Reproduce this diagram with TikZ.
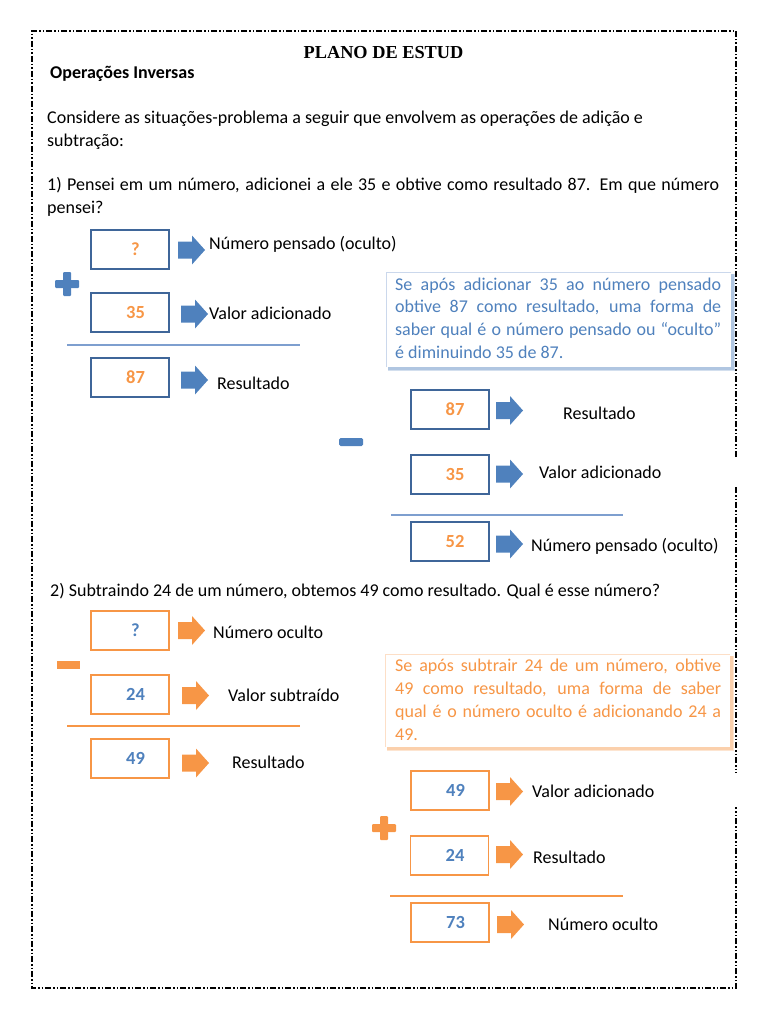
\documentclass[tikz,border=0pt]{standalone}
\usepackage{fontspec}
\setmainfont{Carlito}
\newfontfamily\titlefont{Liberation Serif}
\usetikzlibrary{calc}
\definecolor{bdark}{HTML}{3F6699}
\definecolor{bfill}{HTML}{4F81BD}
\definecolor{bline}{HTML}{7E9FCF}
\definecolor{ofill}{HTML}{F79646}
\newcommand\barr[3]{\fill[#3] (#1,#2) ++(0,-8.5) -- ++(14,0) -- ++(0,-6) -- ++(13,14.5) -- ++(-13,14.5) -- ++(0,-6) -- ++(-14,0) -- cycle;}
\newcommand\plussign[3]{\fill[#3,rounded corners=1pt] (#1,#2) ++(-4,-12) rectangle ++(8,24); \fill[#3,rounded corners=1pt] (#1,#2) ++(-12,-4) rectangle ++(24,8);}
\begin{document}
\begin{tikzpicture}[x=1pt,y=-1pt,
  txt/.style={font=\fontsize{18}{23}\selectfont,inner sep=0pt,anchor=west},
  numbox/.style={minimum width=78pt,minimum height=39pt,inner sep=0pt,font=\fontsize{18.5}{19}\selectfont\bfseries,execute at begin node={\hspace*{11pt}}},
  bbox/.style={numbox,draw=bdark,line width=2pt,text=ofill},
  obox/.style={numbox,draw=ofill,line width=1.3pt,text=bfill},
  bdr/.style={line width=1.6pt,dash pattern=on 6pt off 2pt on 1.5pt off 2pt on 1.5pt off 2pt},
  callout/.style={inner sep=0pt,text width=326pt,align=justify,font=\fontsize{18}{22.8}\selectfont}
]
\useasboundingbox (0,0) rectangle (768,1024);
% border
\draw[bdr] (736,457) -- (736,31) -- (32,31) -- (32,988) -- (736,988) -- (736,807);
\draw[bdr] (736,487) -- (736,773);
% headings
\node[inner sep=0pt,font=\titlefont\fontsize{18.3}{20}\selectfont\bfseries] (title) at (383.5,53) {PLANO DE ESTUD};
\node[txt,font=\fontsize{18}{20}\selectfont\bfseries] (sub) at (50,74) {Operações Inversas};
\node[txt] (p1) at (47,119) {Considere as situações-problema a seguir que envolvem as operações de adição e};
\node[txt] (p2) at (47,142) {subtração:};
\node[txt,text width=672pt,align=justify] (q1) at (47,197) {1) Pensei em um número, adicionei a ele 35 e obtive como resultado 87. Em que número pensei?};
% section 1 left
\plussign{67}{284}{bfill}
\node[bbox] (l1) at (130,249.5) {?};
\barr{178}{250}{bfill}
\node[txt] (l1t) at (209,244) {Número pensado (oculto)};
\node[bbox] (l2) at (130,312.5) {35};
\barr{181}{314}{bfill}
\node[txt] (l2t) at (209,313) {Valor adicionado};
\coordinate (s1a) at (67,345); \coordinate (s1b) at (300,345);
\draw[bline,line width=1.4pt] (s1a) -- (s1b);
\node[bbox] (l3) at (130,377.5) {87};
\barr{181}{380}{bfill}
\node[txt] (l3t) at (217,383) {Resultado};
% callout blue
\fill[bfill!25] (388,274) rectangle (735,371);
\fill[bfill!45] (388,274) rectangle (733.5,369.5);
\fill[white] (386,272) rectangle (731,367);
\draw[bline!40,line width=0.6pt] (386,367) -- (386,272) -- (731,272);
\node[callout,text=bfill,anchor=north west] (c1) at (395,277.5) {Se após adicionar 35 ao número pensado\linebreak obtive 87 como resultado, uma forma de\linebreak saber qual é o número pensado ou “oculto”\linebreak é diminuindo 35 de 87.};
% section 1 right
\fill[bfill,rounded corners=1.5pt] (339,438) rectangle (363,446);
\node[bbox] (r1) at (449.5,409.5) {87};
\barr{496}{410.5}{bfill}
\node[txt] (r1t) at (563,413) {Resultado};
\node[bbox] (r2) at (449.5,474.5) {35};
\barr{496}{474}{bfill}
\node[txt] (r2t) at (539,472) {Valor adicionado};
\coordinate (s2a) at (391,515); \coordinate (s2b) at (623,515);
\draw[bline,line width=1.4pt] (s2a) -- (s2b);
\node[bbox] (r3) at (449.5,541.5) {52};
\barr{496}{544}{bfill}
\node[txt] (r3t) at (531,546) {Número pensado (oculto)};
% section 2
\node[txt] (q2) at (50,591) {2) Subtraindo 24 de um número, obtemos 49 como resultado. Qual é esse número?};
\fill[ofill] (57,661) rectangle (80,669);
\node[obox] (m1) at (130,630.5) {?};
\barr{178}{630.5}{ofill}
\node[txt] (m1t) at (213,632) {Número oculto};
\node[obox] (m2) at (130,694.5) {24};
\barr{182}{695.5}{ofill}
\node[txt] (m2t) at (228,695) {Valor subtraído};
\coordinate (s3a) at (67,726); \coordinate (s3b) at (300,726);
\draw[ofill,line width=1.4pt] (s3a) -- (s3b);
\node[obox] (m3) at (130,758.5) {49};
\barr{182}{763}{ofill}
\node[txt] (m3t) at (232,762) {Resultado};
% callout orange
\fill[ofill!25] (387,656) rectangle (734,751);
\fill[ofill!45] (387,656) rectangle (732.5,749.5);
\fill[white] (385,654) rectangle (730,747);
\draw[ofill!30,line width=0.6pt] (385,747) -- (385,654) -- (730,654);
\node[callout,text=ofill,anchor=north west] (c2) at (395,659) {Se após subtrair 24 de um número, obtive\linebreak 49 como resultado, uma forma de saber\linebreak qual é o número oculto é adicionando 24 a\linebreak 49.};
% section 2 right
\plussign{384}{828}{ofill}
\node[obox] (n1) at (450,790.5) {49};
\barr{496}{791.5}{ofill}
\node[txt] (n1t) at (532,791) {Valor adicionado};
\node[obox] (n2) at (449.5,855.5) {24};
\barr{496}{854.5}{ofill}
\node[txt] (n2t) at (533,857) {Resultado};
\coordinate (s4a) at (390,896); \coordinate (s4b) at (623,896);
\draw[ofill,line width=1.4pt] (s4a) -- (s4b);
\node[obox] (n3) at (450,922.5) {73};
\barr{497}{924.5}{ofill}
\node[txt] (n3t) at (548,924) {Número oculto};
\end{tikzpicture}
\end{document}
